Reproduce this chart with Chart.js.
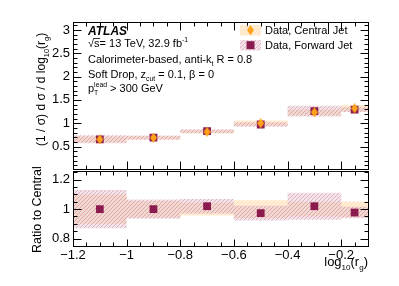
<!DOCTYPE html>
<html>
<head>
<meta charset="utf-8">
<script src="https://cdn.jsdelivr.net/npm/chart.js@4"></script>
<style>
  body { margin: 0; background: #fff; }
  #wrap { position: relative; width: 399px; height: 286px; overflow: hidden; }
  canvas { position: absolute; left: 0; }
</style>
</head>
<body>
<div id="wrap">
  <canvas id="mainChart" width="399" height="180" style="top:0"></canvas>
  <canvas id="ratioChart" width="399" height="126" style="top:160px"></canvas>
</div>
<script>
// bins in log10(r_g)
const binEdges = [-1.2, -1.0, -0.8, -0.6, -0.4, -0.2, -0.1];
const centralValues = [0.655, 0.69, 0.815, 1.0, 1.235, 1.32];
const centralRelUnc = [0.10, 0.055, 0.043, 0.06, 0.05, 0.053];
const forwardValues = [0.655, 0.69, 0.83, 0.973, 1.26, 1.29];
const forwardRelUnc = [0.13, 0.065, 0.048, 0.052, 0.09, 0.04];
const ratioValues = [1.0, 1.0, 1.02, 0.973, 1.02, 0.977];

const xTickValues = [-1.2, -1.0, -0.8, -0.6, -0.4, -0.2];
const xTickLabels = ['\u22121.2', '\u22121', '\u22120.8', '\u22120.6', '\u22120.4', '\u22120.2'];
const yTickValues = [0.5, 1, 1.5, 2, 2.5, 3];
const yTickLabels = ['0.5', '1', '1.5', '2', '2.5', '3'];
const ratioTickValues = [0.8, 1, 1.2];
const ratioTickLabels = ['0.8', '1', '1.2'];

const FONT = "'Liberation Sans', Arial, Helvetica, sans-serif";
const MAROON = '#8b1a4e';
const ORANGE = '#ffa31a';

const binCenters = binEdges.slice(0, -1).map((e, i) => (e + binEdges[i + 1]) / 2);

function makeHatch(bg, line) {
  const c = document.createElement('canvas');
  c.width = 4; c.height = 4;
  const g = c.getContext('2d');
  g.fillStyle = bg;
  g.fillRect(0, 0, 4, 4);
  g.strokeStyle = line;
  g.lineWidth = 1;
  g.beginPath();
  g.moveTo(-1, 1); g.lineTo(1, -1);
  g.moveTo(-1, 5); g.lineTo(5, -1);
  g.moveTo(3, 5); g.lineTo(5, 3);
  g.stroke();
  return g.createPattern(c, 'repeat');
}

function makeDiamond(w, h, color) {
  const c = document.createElement('canvas');
  c.width = w; c.height = h;
  const g = c.getContext('2d');
  g.fillStyle = color;
  g.beginPath();
  g.moveTo(w / 2, 0); g.lineTo(w, h / 2); g.lineTo(w / 2, h); g.lineTo(0, h / 2);
  g.closePath();
  g.fill();
  return c;
}

const forwardFill = makeHatch('rgba(222,185,212,0.40)', 'rgba(205,125,110,0.45)');
const centralFill = makeHatch('rgba(255,215,160,0.45)', 'rgba(255,185,120,0.25)');
const diamond = makeDiamond(7, 10, ORANGE);

// histogram-like stepped edge
function stepData(vals) {
  return binEdges.map((x, i) => ({ x, y: vals[Math.min(i, vals.length - 1)] }));
}

function band(center, rel, fillStyle, order) {
  const hi = center.map((v, i) => v + v * rel[i]);
  const lo = center.map((v, i) => v - v * rel[i]);
  const common = { showLine: true, stepped: true, pointRadius: 0, borderWidth: 0, borderColor: 'transparent', order };
  return [
    { ...common, data: stepData(hi), fill: '+1', backgroundColor: fillStyle },
    { ...common, data: stepData(lo), fill: false }
  ];
}

function points(vals) {
  return binCenters.map((x, i) => ({ x, y: vals[i] }));
}

function rich(ctx, parts, x, y, size, measureOnly) {
  let cx = x;
  for (const [t, k] of parts) {
    if (k === 'supsub') {
      ctx.font = `${size * 0.62}px ${FONT}`;
      if (!measureOnly) {
        ctx.fillText(t[0], cx, y - size * 0.45);
        ctx.fillText(t[1], cx, y + size * 0.35);
      }
      cx += Math.max(ctx.measureText(t[0]).width, ctx.measureText(t[1]).width);
      continue;
    }
    let s = size, dy = 0, f = '';
    if (k === 'sub') { s = size * 0.62; dy = size * 0.35; }
    else if (k === 'sup') { s = size * 0.62; dy = -size * 0.42; }
    else if (k === 'bi') { f = 'italic bold '; }
    ctx.font = `${f}${s}px ${FONT}`;
    if (!measureOnly) ctx.fillText(t, cx, y + dy);
    cx += ctx.measureText(t).width;
  }
  return cx - x;
}

// ROOT style frame with inward ticks on all four sides
function framePlugin(cfg) {
  return {
    id: 'frame',
    afterDraw(chart) {
      const { ctx, chartArea: a, scales } = chart;
      const xs = scales.x, ys = scales.y;
      const L = Math.round(a.left) + 0.5, R = Math.round(a.right) + 0.5;
      const T = Math.round(a.top) + 0.5, B = Math.round(a.bottom) + 0.5;
      ctx.save();
      ctx.strokeStyle = '#000';
      ctx.lineWidth = 1;
      ctx.beginPath();
      const isMajor = (v, m) => Math.abs(v / m - Math.round(v / m)) < 1e-6;
      for (let k = Math.ceil(xs.min / cfg.xMinor - 1e-6); k * cfg.xMinor <= xs.max + 1e-9; k++) {
        const v = k * cfg.xMinor;
        const px = Math.round(xs.getPixelForValue(v)) + 0.5;
        const maj = isMajor(v, cfg.xMajor);
        ctx.moveTo(px, B); ctx.lineTo(px, B - (maj ? cfg.xLen[0] : cfg.xLen[1]));
        ctx.moveTo(px, T); ctx.lineTo(px, T + (maj ? cfg.xTopLen[0] : cfg.xTopLen[1]));
      }
      for (let k = Math.ceil(ys.min / cfg.yMinor - 1e-6); k * cfg.yMinor <= ys.max + 1e-9; k++) {
        const v = k * cfg.yMinor;
        const py = Math.round(ys.getPixelForValue(v)) + 0.5;
        const len = isMajor(v, cfg.yMajor) ? cfg.yLen[0] : cfg.yLen[1];
        ctx.moveTo(L, py); ctx.lineTo(L + len, py);
        ctx.moveTo(R, py); ctx.lineTo(R - len, py);
      }
      ctx.stroke();
      ctx.strokeRect(L, T, R - L, B - T);
      ctx.restore();
    }
  };
}

const mainText = {
  id: 'mainText',
  afterDraw(chart) {
    const ctx = chart.ctx;
    ctx.save();
    ctx.fillStyle = '#000';
    ctx.textBaseline = 'alphabetic';
    const x0 = 88, fs = 11;
    rich(ctx, [['ATLAS', 'bi']], x0, 34.5, 12);
    // sqrt(s) with overline
    const w1 = rich(ctx, [['\u221A', '']], x0, 47, fs);
    ctx.font = `${fs}px ${FONT}`;
    const ws = ctx.measureText('s').width;
    ctx.fillRect(x0 + w1 - 0.5, 38, ws + 1, 0.8);
    rich(ctx, [['s= 13 TeV, 32.9 fb', ''], ['-1', 'sup']], x0 + w1, 47, fs);
    rich(ctx, [['Calorimeter-based, anti-k', ''], ['t', 'sub'], [' R = 0.8', '']], x0, 62.5, fs);
    rich(ctx, [['Soft Drop, z', ''], ['cut', 'sub'], [' = 0.1, \u03B2 = 0', '']], x0, 77.5, fs);
    rich(ctx, [['p', ''], [['lead', 'T'], 'supsub'], [' > 300 GeV', '']], x0, 91.5, fs);

    // legend
    const bx = 240, bw = 21;
    ctx.fillStyle = centralFill;
    ctx.fillRect(bx, 25, bw, 10.5);
    ctx.fillStyle = forwardFill;
    ctx.fillRect(bx, 40, bw, 10.5);
    ctx.fillStyle = MAROON;
    ctx.fillRect(bx + bw / 2 - 4, 45.2 - 4, 8, 8);
    ctx.drawImage(diamond, bx + bw / 2 - 3.5, 30.2 - 5);
    ctx.fillStyle = '#000';
    rich(ctx, [['Data, Central Jet', '']], 265, 34, fs);
    rich(ctx, [['Data, Forward Jet', '']], 265, 49, fs);

    // y title, rotated, aligned to the top of the axis
    ctx.translate(44.5, 146);
    ctx.rotate(-Math.PI / 2);
    rich(ctx, [['(1 / \u03C3) d \u03C3 / d log', ''], ['10', 'sub'], ['(r', ''], ['g', 'sub'], [')', '']], 0, 0, 12);
    ctx.restore();
  }
};

const ratioText = {
  id: 'ratioText',
  afterDraw(chart) {
    const ctx = chart.ctx;
    ctx.save();
    ctx.fillStyle = '#000';
    const parts = [['log', ''], ['10', 'sub'], ['(r', ''], ['g', 'sub'], [')', '']];
    const w = rich(ctx, parts, 0, 0, 13, true);
    rich(ctx, parts, 368 - w, 105.5, 13);
    ctx.translate(41, 93);
    ctx.rotate(-Math.PI / 2);
    rich(ctx, [['Ratio to Central', '']], 0, 0, 12.5);
    ctx.restore();
  }
};

const tickFont = { family: FONT, size: 13 };

new Chart(document.getElementById('mainChart'), {
  type: 'scatter',
  data: {
    datasets: [
      ...band(centralValues, centralRelUnc, centralFill, 6),
      ...band(forwardValues, forwardRelUnc, forwardFill, 5),
      { data: points(forwardValues), pointStyle: 'rect', pointRadius: 5.5, backgroundColor: MAROON, borderWidth: 0, order: 2 },
      { data: points(centralValues), pointStyle: diamond, pointRadius: 5, backgroundColor: ORANGE, borderWidth: 0, order: 1 }
    ]
  },
  options: {
    responsive: false,
    animation: false,
    events: [],
    layout: { padding: { top: 22, right: 31, bottom: 9, left: 0 } },
    plugins: { legend: { display: false }, tooltip: { enabled: false } },
    scales: {
      x: { type: 'linear', min: -1.2, max: -0.1, display: false },
      y: {
        min: 0.015, max: 3.17,
        afterFit: (s) => { s.width = 73; },
        afterBuildTicks: (s) => { s.ticks = yTickValues.map((v) => ({ value: v })); },
        ticks: { padding: 3, color: '#000', font: tickFont, callback: (v, i) => yTickLabels[i] },
        grid: { display: false, drawTicks: false },
        border: { display: false }
      }
    }
  },
  plugins: [framePlugin({ xMinor: 0.05, xMajor: 0.2, yMinor: 0.1, yMajor: 0.5, xLen: [8, 4], xTopLen: [8, 4], yLen: [8, 4] }), mainText]
});

new Chart(document.getElementById('ratioChart'), {
  type: 'scatter',
  data: {
    datasets: [
      ...band(ratioValues.map(() => 1), centralRelUnc, centralFill, 6),
      ...band(ratioValues, forwardRelUnc, forwardFill, 5),
      { data: points(ratioValues), pointStyle: 'rect', pointRadius: 5.5, backgroundColor: MAROON, borderWidth: 0, order: 2 }
    ]
  },
  options: {
    responsive: false,
    animation: false,
    events: [],
    layout: { padding: { top: 11, right: 31, bottom: 0, left: 0 } },
    plugins: { legend: { display: false }, tooltip: { enabled: false } },
    scales: {
      x: {
        type: 'linear', min: -1.2, max: -0.1,
        afterFit: (s) => { s.height = 40; },
        afterBuildTicks: (s) => { s.ticks = xTickValues.map((v) => ({ value: v })); },
        ticks: { padding: 2, color: '#000', font: tickFont, maxRotation: 0, autoSkip: false, callback: (v, i) => xTickLabels[i] },
        grid: { display: false, drawTicks: false },
        border: { display: false }
      },
      y: {
        min: 0.749, max: 1.26,
        afterFit: (s) => { s.width = 73; },
        afterBuildTicks: (s) => { s.ticks = ratioTickValues.map((v) => ({ value: v })); },
        ticks: { padding: 3, color: '#000', font: tickFont, callback: (v, i) => ratioTickLabels[i] },
        grid: { display: false, drawTicks: false },
        border: { display: false }
      }
    }
  },
  plugins: [framePlugin({ xMinor: 0.05, xMajor: 0.2, yMinor: 0.05, yMajor: 0.2, xLen: [7, 4], xTopLen: [5, 4], yLen: [8, 4] }), ratioText]
});
</script>
</body>
</html>
